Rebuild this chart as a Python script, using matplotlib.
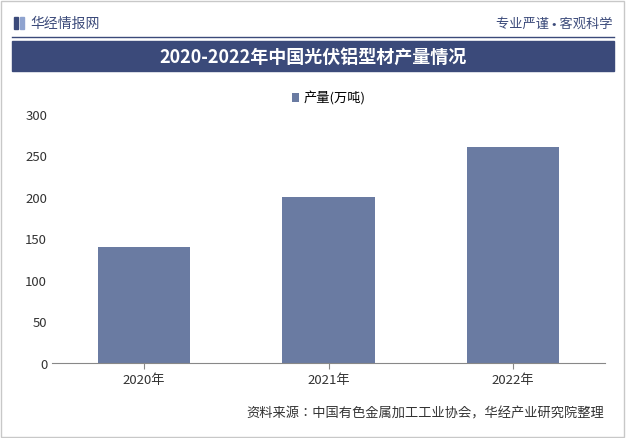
import matplotlib
matplotlib.use("Agg")
import matplotlib.pyplot as plt
from matplotlib.patches import Rectangle
from matplotlib import font_manager

names = {f.name for f in font_manager.fontManager.ttflist}
cjk = [n for n in ["Noto Sans CJK SC", "Noto Sans CJK JP", "Noto Sans CJK TC", "Noto Sans CJK KR",
                   "Noto Sans SC", "WenQuanYi Zen Hei"] if n in names]
if not cjk:
    cjk = [n for n in names if "CJK" in n or "SC" in n]
plt.rcParams["font.family"] = "sans-serif"
plt.rcParams["font.sans-serif"] = cjk + ["DejaVu Sans"]

categories = ["2020年", "2021年", "2022年"]
values = [140, 200, 260]
yticks = [0, 50, 100, 150, 200, 250, 300]

W, H = 626, 439
fig = plt.figure(figsize=(W/100, H/100), dpi=100)
fig.patch.set_facecolor("white")

fig.add_artist(Rectangle((1/W, 1/H), (W-3)/W, (H-3)/H, transform=fig.transFigure,
                         fill=False, edgecolor="#c8c8c8", lw=1))
fig.add_artist(Rectangle((14/W, 1-30/H), 4/W, 12/H, transform=fig.transFigure, color="#3b4a7a"))
fig.add_artist(Rectangle((20/W, 1-30/H), 4/W, 12/H, transform=fig.transFigure, color="#8fa3cf"))
fig.text(30/W, 1-24/H, "华经情报网", fontsize=10, color="#3b4a7a", va="center")
fig.text(612/W, 1-24/H, "专业严谨 • 客观科学", fontsize=9.5, color="#3b4a7a", va="center", ha="right")
fig.add_artist(plt.Line2D([12/W, 614/W], [1-38/H, 1-38/H], transform=fig.transFigure, color="#3b4a7a", lw=1))
fig.add_artist(Rectangle((12/W, 1-72/H), 602/W, 30/H, transform=fig.transFigure, color="#3b4a7a"))
fig.text(0.5, 1-57/H, "2020-2022年中国光伏铝型材产量情况", fontsize=13, fontweight="bold",
         color="white", ha="center", va="center")

ax = fig.add_axes([52/W, 1-364/H, (605-52)/W, (364-115)/H])
x = range(len(categories))
ax.bar(x, values, width=0.5, color="#6a7ba2", label="产量(万吨)")
ax.set_xlim(-0.5, 2.5)
ax.set_ylim(0, 300)
ax.set_yticks(yticks)
ax.set_xticks(list(x))
ax.set_xticklabels(categories)
ax.tick_params(labelsize=9.5, colors="#333333", length=0)
ax.tick_params(axis="x", length=4, color="#888888")
for s in ["top", "right", "left"]:
    ax.spines[s].set_visible(False)
ax.spines["bottom"].set_color("#888888")
ax.legend(loc="upper center", bbox_to_anchor=(0.5, 1.14), frameon=False, fontsize=9.5,
          handlelength=0.6, handleheight=0.6, handletextpad=0.3)

fig.text(604/W, 1-414/H, "资料来源：中国有色金属加工工业协会，华经产业研究院整理", fontsize=9.5,
         color="#333333", ha="right", va="center")

fig.savefig("out.png", dpi=100)
